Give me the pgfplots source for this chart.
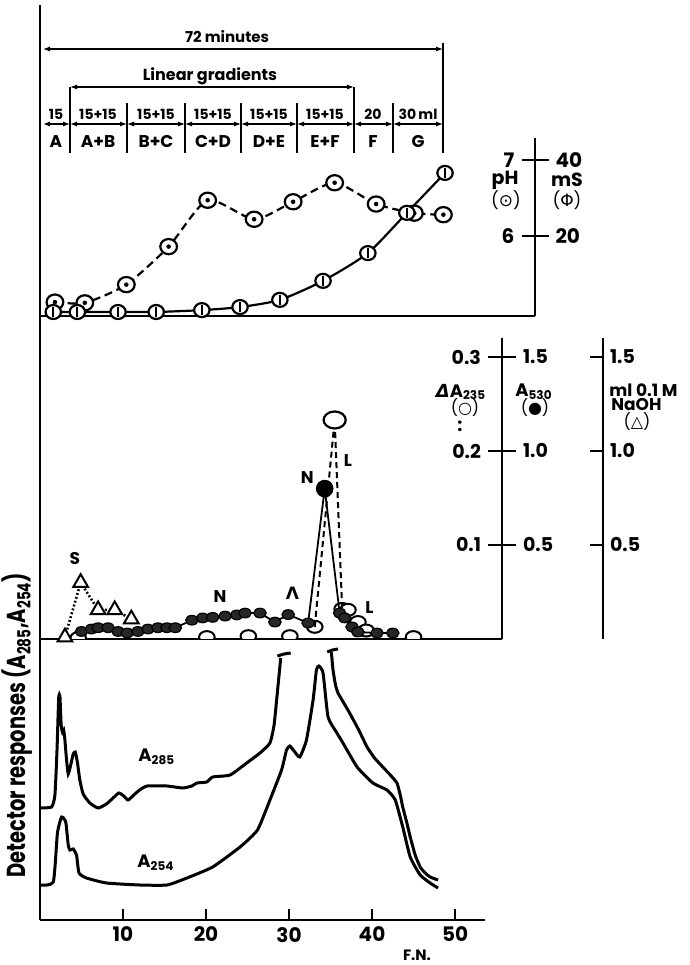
\documentclass[border=0pt]{standalone}
\usepackage{pgfplots}
\pgfplotsset{compat=1.18}
\usepackage{fontspec}
\setmainfont{Poppins}
\newfontfamily\dejavu{DejaVu Sans}
\usepackage{graphicx}
\usetikzlibrary{arrows.meta}

\newcommand\fs[1]{\fontsize{#1}{#1}\selectfont}

\pgfdeclareplotmark{odot}{%
  \pgfpathellipse{\pgfpointorigin}{\pgfqpoint{1.1\pgfplotmarksize}{0pt}}{\pgfqpoint{0pt}{\pgfplotmarksize}}%
  \pgfusepathqfillstroke
  \begin{pgfscope}\pgfsetfillcolor{black}%
  \pgfpathcircle{\pgfpointorigin}{0.3\pgfplotmarksize}\pgfusepathqfill
  \end{pgfscope}}
\pgfdeclareplotmark{obar}{%
  \pgfpathellipse{\pgfpointorigin}{\pgfqpoint{1.1\pgfplotmarksize}{0pt}}{\pgfqpoint{0pt}{\pgfplotmarksize}}%
  \pgfusepathqfillstroke
  \pgfpathmoveto{\pgfqpoint{0pt}{-0.7\pgfplotmarksize}}%
  \pgfpathlineto{\pgfqpoint{0pt}{0.7\pgfplotmarksize}}%
  \pgfusepathqstroke}
\pgfdeclareplotmark{oell}{%
  \pgfpathellipse{\pgfpointorigin}{\pgfqpoint{1.3\pgfplotmarksize}{0pt}}{\pgfqpoint{0pt}{\pgfplotmarksize}}%
  \pgfusepathqfillstroke}

\tikzset{dbl/.style={{Latex[length=3.5pt,width=2.6pt]}-{Latex[length=3.5pt,width=2.6pt]}, line width=0.9pt}}

\pgfplotsset{
  /pgf/number format/assume math mode=true,
  panel/.style={scale only axis, anchor=south west, axis x line=bottom, axis y line=left,
    axis line style={-, line width=1.3pt}, xtick=\empty, ytick=\empty, clip=false},
  over/.style={scale only axis, anchor=south west, hide axis, clip=false},
  scl/.style={scale only axis, width=10pt, xmin=0, xmax=1, hide x axis,
    axis line style={-, line width=1.3pt}, tick style={line width=1.2pt, black},
    ticklabel style={font=\fs{9.5}\bfseries}},
  sclL/.style={scl, anchor=south west, axis y line*=left},
  sclR/.style={scl, anchor=south east, axis y line*=right},
}

\begin{document}
\begin{tikzpicture}
\useasboundingbox (0,0) rectangle (345pt,482.5pt);

% ---------- top panel : pH and conductivity ----------
\begin{axis}[panel, at={(20pt,324.5pt)}, width=247.5pt, height=155.5pt,
  xmin=0, xmax=59.64, ymin=4.947, ymax=9.039]
\addplot[line width=1.1pt, dash pattern=on 4pt off 2.4pt, smooth, tension=0.4,
  mark=odot, mark size=3.8pt, mark options={solid, fill=white, line width=1.1pt}]
  coordinates {(1.8,5.13)(5.4,5.12)(10.4,5.36)(15.5,5.86)(20.2,6.47)(25.8,6.22)
  (30.5,6.45)(35.5,6.70)(40.5,6.42)(45.1,6.30)(48.6,6.28)};
\end{axis}
\begin{axis}[over, at={(20pt,324.5pt)}, width=247.5pt, height=155.5pt,
  xmin=0, xmax=59.64, ymin=-1.05, ymax=80.79]
\addplot[line width=1.1pt, smooth, tension=0.4,
  mark=obar, mark size=3.5pt, mark options={fill=white, line width=1.1pt}]
  coordinates {(1.6,0.0)(4.5,0.0)(9.4,0.0)(14.0,0.0)(19.5,0.5)(24.1,1.3)
  (28.9,3.2)(34.1,8.2)(39.5,15.5)(44.2,26.1)(48.8,36.6)};
\end{axis}
% pH / mS scale
\begin{axis}[sclL, at={(267.5pt,324.5pt)}, height=89pt, ymin=4.947, ymax=7.289,
  ytick={6,7}, tick align=center, major tick length=13.5pt,
  ticklabel style={font=\fs{10}\bfseries}]
\end{axis}
\begin{axis}[sclR, at={(267.5pt,324.5pt)}, height=89pt, ymin=-1.05, ymax=45.79,
  ytick={20,40}, tick align=center, major tick length=13.5pt,
  ticklabel style={font=\fs{10}\bfseries}]
\end{axis}

% ---------- middle panel ----------
\begin{axis}[panel, at={(20pt,163pt)}, width=231pt, height=161.5pt,
  xmin=0, xmax=55.66, ymin=0, ymax=0.34362, clip marker paths=true, clip=true]
\addplot[only marks, mark=oell, mark size=3pt, mark options={fill=white, line width=1pt}]
  coordinates {(4.6,0.001)(20.1,0.002)(25.1,0.003)(30.1,0.003)(33.1,0.013)
  (36.4,0.032)(37.1,0.031)(38.3,0.018)(39.3,0.009)(45.0,0.002)};
\addplot[line width=1pt, dash pattern=on 3pt off 2pt, mark=oell, mark indices={2},
  mark size=4.25pt, mark options={solid, fill=white, line width=1.1pt}]
  coordinates {(33.1,0.013)(35.5,0.233)(36.4,0.032)};
\end{axis}
\begin{axis}[over, at={(20pt,163pt)}, width=231pt, height=161.5pt,
  xmin=0, xmax=55.66, ymin=0, ymax=1.7181]
% A530 (filled)
\addplot[line width=0.9pt, mark=oell, mark size=2.4pt,
  mark options={fill=black!85, draw=black, line width=0.6pt}]
  coordinates {(5.0,0.04)(6.2,0.053)(7.0,0.06)(8.2,0.06)(9.4,0.04)(10.5,0.032)
  (11.8,0.04)(13.0,0.053)(14.2,0.06)(15.3,0.06)(16.3,0.06)(18.3,0.10)(19.6,0.112)
  (20.8,0.115)(22.3,0.122)(23.7,0.128)(24.7,0.138)(26.5,0.138)(28.3,0.09)
  (29.9,0.13)(32.3,0.085)(34.3,0.80)(36.1,0.138)(36.7,0.112)(37.6,0.064)
  (38.3,0.037)(40.6,0.032)(42.5,0.032)};
\addplot[only marks, mark=*, mark size=4.2pt, mark options={fill=black}]
  coordinates {(34.3,0.80)};
% NaOH (triangles)
\addplot[line width=1.3pt, dash pattern=on 0.9pt off 1.1pt, mark=triangle*, mark size=4.2pt,
  mark options={solid, fill=white, line width=1pt}]
  coordinates {(3.0,0.01)(4.9,0.30)(7.0,0.155)(9.0,0.155)(11.0,0.106)};
\node[font=\fs{8.5}\bfseries] at (axis cs:4.2,0.43) {S};
\node[font=\fs{8.5}\bfseries] at (axis cs:21.7,0.225) {N};
\node[font=\fs{8.5}\bfseries] at (axis cs:32.2,0.86) {N};
\node[font=\fs{8.5}\bfseries] at (axis cs:37.1,0.95) {L};
\node[font=\fs{8.5}\bfseries] at (axis cs:39.7,0.17) {L};
\node[font=\fs{8.5}\bfseries] at (axis cs:30.4,0.245) {\dejavu Λ};
\end{axis}
% middle scales
\begin{axis}[sclL, at={(251pt,163pt)}, height=150.5pt, ymin=0, ymax=0.3202,
  ytick={0.1,0.2,0.3}, tick align=center, major tick length=14pt,
  yticklabel style={/pgf/number format/.cd, fixed, fixed zerofill, precision=1}]
\end{axis}
\begin{axis}[sclR, at={(251pt,163pt)}, height=150.5pt, ymin=0, ymax=1.601,
  ytick={0.5,1,1.5}, tick align=center, major tick length=14pt,
  yticklabel style={/pgf/number format/.cd, fixed, fixed zerofill, precision=1}]
\end{axis}
\begin{axis}[sclR, at={(301.5pt,163pt)}, height=150.5pt, ymin=0, ymax=1.601,
  ytick={0.5,1,1.5}, tick align=inside, major tick length=6.5pt,
  yticklabel style={/pgf/number format/.cd, fixed, fixed zerofill, precision=1}]
\end{axis}

% ---------- bottom panel : detector responses ----------
\begin{axis}[panel, at={(20pt,22.5pt)}, width=222.5pt, height=140.5pt,
  xmin=0, xmax=53.61, ymin=0, ymax=281,
  xtick={10,20,30,40,50}, tick align=inside, major tick length=5.5pt,
  xtick style={line width=1.2pt, black}, xticklabel style={font=\fs{10}\bfseries}]
\addplot[line width=1.5pt, smooth, tension=0.3] coordinates {
  (0,112)(1.4,113)(1.8,125)(2.05,170)(2.25,222)(2.4,224)(2.55,195)(2.7,188)(2.85,190)
  (3.0,180)(3.2,160)(3.4,146)(3.7,155)(4.0,166)(4.25,168)(4.5,158)(4.8,140)(5.2,126)
  (6.0,117)(7.0,112)(8.0,116)(8.8,122)(9.5,127)(10.1,124)(10.6,120)(11.3,125)(12.0,130)
  (12.9,134)(15.3,134)(17.2,132)(18.3,134)(18.9,137)(20.1,138)(20.8,143)(22.9,145)
  (24.9,157)(26.5,167)(27.7,177)(28.2,195)(28.6,228)(29.0,262)};
\addplot[line width=1.5pt] coordinates {(28.6,264)(29.4,266)(30.2,267)};
\addplot[line width=1.5pt, smooth, tension=0.3] coordinates {
  (35.1,268)(35.3,250)(35.6,235)(35.9,227)(36.6,217)(37.3,207)(38.4,190)(39.4,173)
  (40.3,162)(41.3,153)(42.2,145)(43.0,137)(43.4,125)(43.7,113)(44.2,97)(44.6,83)
  (45.2,65)(45.8,53)(46.4,47)(47.0,43)(47.95,40)};
\addplot[line width=1.5pt] coordinates {(34.6,268)(35.2,270)(35.9,271)};
\addplot[line width=1.5pt, smooth, tension=0.3] coordinates {
  (0,35)(1.6,38)(2.1,87)(2.6,103)(3.1,98)(3.4,75)(3.6,70)(4.0,71)(4.4,65)(4.7,47)
  (5.6,42)(8.0,37)(12,35)(15.3,35)(17.7,42)(20.8,53)(24.1,73)(26.2,90)(27.7,120)
  (29.1,150)(29.7,170)(30.1,174)(30.7,168)(31.3,163)(32.1,180)(32.9,220)(33.3,250)
  (33.6,254)(34.1,247)(34.7,203)(35.7,188)(36.5,177)(38.2,153)(40.1,137)(41.8,130)
  (42.8,120)(43.7,93)(44.6,63)(45.8,45)(47.0,37)(47.95,32)};
\end{axis}

% ---------- annotations (pixel coordinates) ----------
\begin{scope}[x=0.5pt, y=-0.5pt, shift={(0pt,482.5pt)}]
  \node[font=\fs{7.5}\bfseries] at (227,37) {72 minutes};
  \draw[dbl] (43,49) -- (443,49);
  \draw[line width=0.9pt] (443,43) -- (443,153);
  \node[font=\fs{8}\bfseries] at (210,76) {Linear gradients};
  \draw[dbl] (70,87) -- (354,87);
  \draw[line width=0.9pt] (70,87) -- (70,153) (354,87) -- (354,153);
  \foreach \x in {127,185,241,297,393} \draw[line width=0.9pt] (\x,103) -- (\x,153);
  \foreach \a/\b in {43/70,70/127,127/185,185/241,241/297,297/354,354/393,393/443}
    \draw[dbl, line width=0.7pt] (\a,124) -- (\b,124);
  \foreach \x/\t in {56/15,98/15+15,156/15+15,213/15+15,269/15+15,325/15+15,373/20,418/30\,ml}
    \node[font=\fs{7}\bfseries] at (\x,114) {\t};
  \foreach \x/\t in {56/A,98/A+B,156/B+C,213/C+D,269/D+E,325/E+F,373/F,418/G}
    \node[font=\fs{8.5}\bfseries] at (\x,142) {\t};
  % top scale labels
  \node[font=\fs{9.5}\bfseries, inner sep=0pt] at (505,180) {pH};
  \node[font=\fs{8.5}, inner sep=0pt] at (506,200) {({\dejavu ⊙})};
  \node[font=\fs{9.5}\bfseries, inner sep=0pt] at (567,180) {mS};
  \node[font=\fs{8.5}, inner sep=0pt] at (567,200) {({\dejavu Φ})};
  % middle scale labels
  \node[font=\fs{9}\bfseries] at (461,392) {{\dejavu\bfseries\itshape Δ}A\textsubscript{235}};
  \node[font=\fs{8}] at (465,408) {({\dejavu ○})};
  \node[font=\fs{9}\bfseries] at (460,426) {:};
  \node[font=\fs{9}\bfseries] at (534,392) {A\textsubscript{530}};
  \node[font=\fs{8}] at (535,408) {({\dejavu ●})};
  \node[font=\fs{8.5}\bfseries, anchor=west, inner sep=0pt] at (609,390) {ml 0.1 M};
  \node[font=\fs{8.5}\bfseries, anchor=west, inner sep=0pt] at (611,405) {NaOH};
  \node[font=\fs{8}] at (637,422) {({\dejavu △})};
  % bottom labels
  \node[font=\fs{9}\bfseries, anchor=west, inner sep=0pt] at (138,757) {A\textsubscript{285}};
  \node[font=\fs{9}\bfseries, anchor=west, inner sep=0pt] at (137,863) {A\textsubscript{254}};
  \node[font=\fs{7.5}\bfseries, inner sep=0pt] at (417,955) {F.N.};
  \node[rotate=90, font=\fs{13}\bfseries] at (17,725)
    {\scalebox{0.75}[1]{Detector responses (A\textsubscript{285},A\textsubscript{254})}};
\end{scope}
\end{tikzpicture}
\end{document}
